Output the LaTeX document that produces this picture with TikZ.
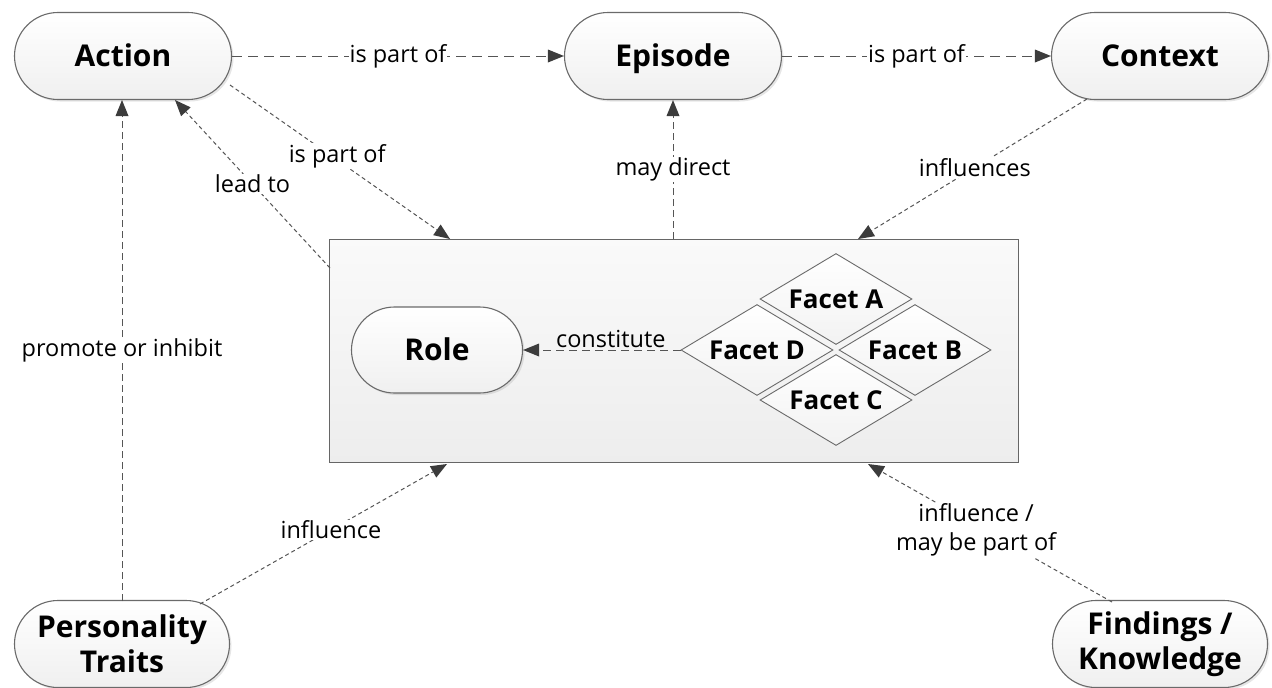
\documentclass[tikz,border=0pt]{standalone}
\usepackage{fontspec}
\setmainfont{Open Sans}
\usetikzlibrary{shapes.misc,shapes.geometric,arrows.meta,shadows}
\definecolor{lineC}{HTML}{555555}
\definecolor{tipC}{HTML}{3C3C3C}
\definecolor{bordC}{HTML}{6A6A6A}
\begin{document}
\begin{tikzpicture}[x=1pt,y=-1pt,
  pill/.style={rounded rectangle, draw=bordC, line width=1.1pt, top color=white, bottom color=gray!12,
    drop shadow={opacity=0.2, shadow xshift=2pt, shadow yshift=-2pt},
    minimum width=217pt, minimum height=87pt, inner sep=0pt, align=center,
    font=\fontsize{30}{35}\selectfont\bfseries},
  oneline/.style={text height=28.5pt, text depth=7.1pt},
  facet/.style={diamond, aspect=1.67, draw=bordC, line width=0.9pt, top color=white, bottom color=gray!10,
    minimum width=152pt, minimum height=91pt, inner sep=0pt,
    text height=24.7pt, text depth=6.1pt,
    font=\fontsize{26}{30}\selectfont\bfseries},
  conn/.style={draw=lineC, line width=1pt, -{Triangle[length=16pt,width=13pt,fill=tipC,line width=0pt]}},
  longdash/.style={dash pattern=on 10pt off 6pt},
  finedash/.style={dash pattern=on 4pt off 3pt},
  middash/.style={dash pattern=on 7pt off 4pt},
  lbl/.style={fill=white, inner sep=1pt, font=\fontsize{23.5}{29}\selectfont, align=center, text=black},
]
\useasboundingbox (0,0) rectangle (1272,688);
% container
\node (box) at (673.5,350.5) [rectangle, draw=gray!80!black, line width=1pt, top color=gray!4, bottom color=gray!14,
  minimum width=689pt, minimum height=223pt, inner sep=0pt] {};
% main nodes
\node[pill, oneline] (action) at (123,56) {Action};
\node[pill, oneline] (episode) at (673,56) {Episode};
\node[pill, oneline] (context) at (1160,56) {Context};
\node[pill, minimum width=215pt] (pers) at (122,644) {Personality\\Traits};
\node[pill, minimum width=215pt] (find) at (1160,644) {Findings /\\Knowledge};
\node[pill, oneline, minimum width=171pt, minimum height=86pt] (role) at (437,350) {Role};
% facets
\node[facet] (fa) at (836,299) {Facet A};
\node[facet] (fd) at (757,350) {Facet D};
\node[facet] (fb) at (915,350) {Facet B};
\node[facet] (fc) at (836,400) {Facet C};
% anchor coordinates on the container and node rims
\coordinate (bActIn) at (450,239);
\coordinate (bLead) at (330,268);
\coordinate (bEpi) at (673,239);
\coordinate (bCtx) at (858,239);
\coordinate (bPers) at (447,464);
\coordinate (bFind) at (868,464);
\coordinate (actS) at (175,100);
\coordinate (actSE) at (230,85);
\coordinate (ctxS) at (1087,99);
\coordinate (persN) at (122,601);
\coordinate (persNE) at (200,604);
\coordinate (findN) at (1112,602);
\coordinate (actB) at (122,100);
% connectors
\draw[conn, longdash] (action.east) -- node[lbl]{is part of} (episode.west);
\draw[conn, longdash] (episode.east) -- node[lbl]{is part of} (context.west);
\draw[conn, finedash] (actSE) -- node[lbl, pos=0.46, xshift=6pt]{is part of} (bActIn);
\draw[conn, finedash] (bLead) -- node[lbl, pos=0.5]{lead to} (actS);
\draw[conn, middash] (bEpi) -- node[lbl, pos=0.5]{may direct} (episode.south);
\draw[conn, finedash] (ctxS) -- node[lbl, pos=0.49]{influences} (bCtx);
\draw[conn, middash] (persN) -- node[lbl, pos=0.5]{promote or inhibit} (actB);
\draw[conn, finedash] (persNE) -- node[lbl, pos=0.53]{influence} (bPers);
\draw[conn, finedash] (findN) -- node[lbl, pos=0.52, xshift=-9pt]{influence /\\may be part of} (bFind);
\draw[conn, dash pattern=on 8pt off 5pt] (fd.west) -- node[above=1pt, xshift=9pt, inner sep=1pt, font=\fontsize{23.5}{29}\selectfont]{constitute} (role.east);
\end{tikzpicture}
\end{document}
